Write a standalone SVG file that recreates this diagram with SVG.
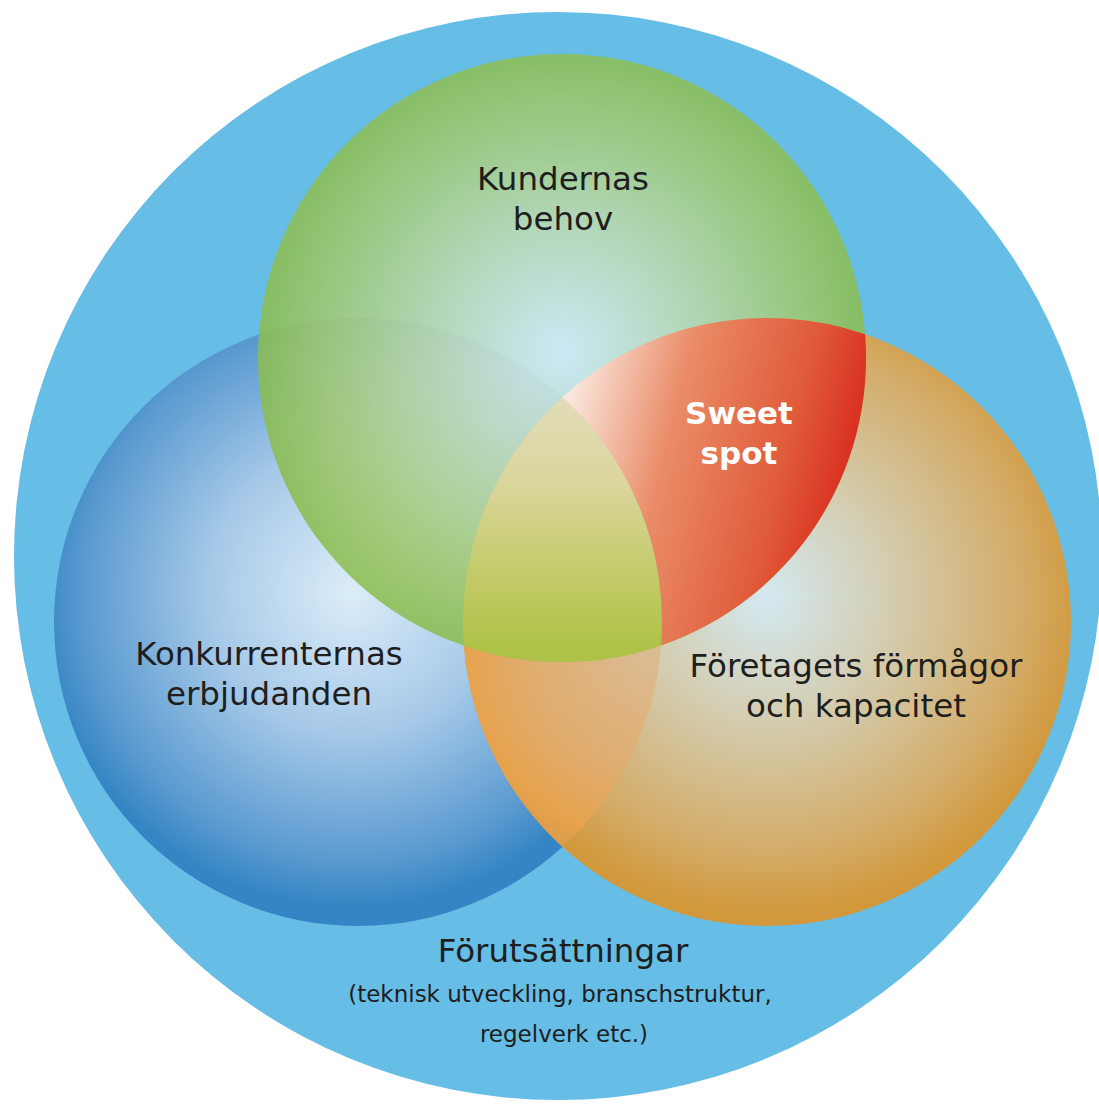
<svg xmlns="http://www.w3.org/2000/svg" width="1099" height="1107" viewBox="0 0 1099 1107">
<defs>
<radialGradient id="gGreen" cx="0.5" cy="0.49" r="0.5">
<stop offset="0" stop-color="#dcf0f8"/>
<stop offset="0.4" stop-color="#c0dcb4"/>
<stop offset="0.8" stop-color="#a0c86c"/>
<stop offset="1" stop-color="#8bbd4e"/>
</radialGradient>
<radialGradient id="gBlue" cx="0.49" cy="0.45" r="0.52">
<stop offset="0" stop-color="#dcedf8"/>
<stop offset="0.45" stop-color="#a6c9e8"/>
<stop offset="0.85" stop-color="#5a9ad0"/>
<stop offset="1" stop-color="#3385c3"/>
</radialGradient>
<radialGradient id="gOrange" cx="0.5" cy="0.46" r="0.52">
<stop offset="0" stop-color="#dcecf2"/>
<stop offset="0.4" stop-color="#dccdaa"/>
<stop offset="0.8" stop-color="#dcab60"/>
<stop offset="1" stop-color="#d9962f"/>
</radialGradient>
<linearGradient id="gRed" x1="570" y1="400" x2="860" y2="470" gradientUnits="userSpaceOnUse">
<stop offset="0" stop-color="#fae6dc"/>
<stop offset="0.35" stop-color="#ea8c68"/>
<stop offset="0.75" stop-color="#e05a38"/>
<stop offset="1" stop-color="#d8281c"/>
</linearGradient>
<linearGradient id="gTriple" x1="0" y1="400" x2="0" y2="646" gradientUnits="userSpaceOnUse">
<stop offset="0" stop-color="#e2dcb8"/>
<stop offset="0.35" stop-color="#dad59a"/>
<stop offset="0.7" stop-color="#c4cb6a"/>
<stop offset="1" stop-color="#afc248"/>
</linearGradient>
<radialGradient id="gBO" cx="650" cy="650" r="235" gradientUnits="userSpaceOnUse">
<stop offset="0" stop-color="#dcba90"/>
<stop offset="0.55" stop-color="#e2ac6c"/>
<stop offset="0.8" stop-color="#eaa34e"/>
<stop offset="1" stop-color="#d2984c"/>
</radialGradient>
</defs>
<style>
.lbl{font-family:"DejaVu Sans","Liberation Sans",sans-serif;fill:#1e1e1e;text-anchor:middle;}
.big{font-size:32.5px;}
.small{font-size:23px;}
.sweet{font-family:"DejaVu Sans","Liberation Sans",sans-serif;font-weight:bold;font-size:31px;fill:#ffffff;text-anchor:middle;}
</style>
<rect width="1099" height="1107" fill="#ffffff"/>
<g id="forutsattningar">
<circle cx="558" cy="556" r="544" fill="#66bde6"/>
<text class="lbl big" x="563" y="962">Förutsättningar</text>
<text class="lbl small" x="560" y="1002">(teknisk utveckling, branschstruktur,<tspan x="564" dy="40">regelverk etc.)</tspan></text>
</g>
<g id="konkurrenter">
<circle cx="358" cy="622" r="304" fill="url(#gBlue)"/>
</g>
<g id="foretaget">
<circle cx="767" cy="622" r="304" fill="url(#gOrange)" fill-opacity="0.93"/>
</g>
<g id="blue-orange">
<path d="M 463.9 645.8 A 304 304 0 0 0 562.5 846.9 A 304 304 0 0 0 661.1 645.4 A 304 304 0 0 1 463.9 645.8 Z" fill="url(#gBO)" fill-opacity="0.88"/>
</g>
<g id="kunder">
<circle cx="562" cy="358" r="304" fill="url(#gGreen)" fill-opacity="0.86"/>
</g>
<g id="alla-tre">
<path d="M 562.5 397.1 A 304 304 0 0 1 661.1 645.4 A 304 304 0 0 1 463.9 645.8 A 304 304 0 0 1 562.5 397.1 Z" fill="url(#gTriple)"/>
</g>
<g id="sweetspot">
<path d="M 562.5 397.1 A 304 304 0 0 1 865.1 334.2 A 304 304 0 0 1 661.1 645.4 A 304 304 0 0 0 562.5 397.1 Z" fill="url(#gRed)"/>
<text class="sweet" x="739" y="424">Sweet<tspan x="739" dy="40">spot</tspan></text>
</g>
<g id="labels">
<text class="lbl big" x="563" y="190">Kundernas<tspan x="563" dy="39.5">behov</tspan></text>
<text class="lbl big" x="269" y="665">Konkurrenternas<tspan x="269" dy="39.5">erbjudanden</tspan></text>
<text class="lbl big" x="856" y="677">Företagets förmågor<tspan x="856" dy="39.5">och kapacitet</tspan></text>
</g>
<g id="connectors"/>
</svg>
